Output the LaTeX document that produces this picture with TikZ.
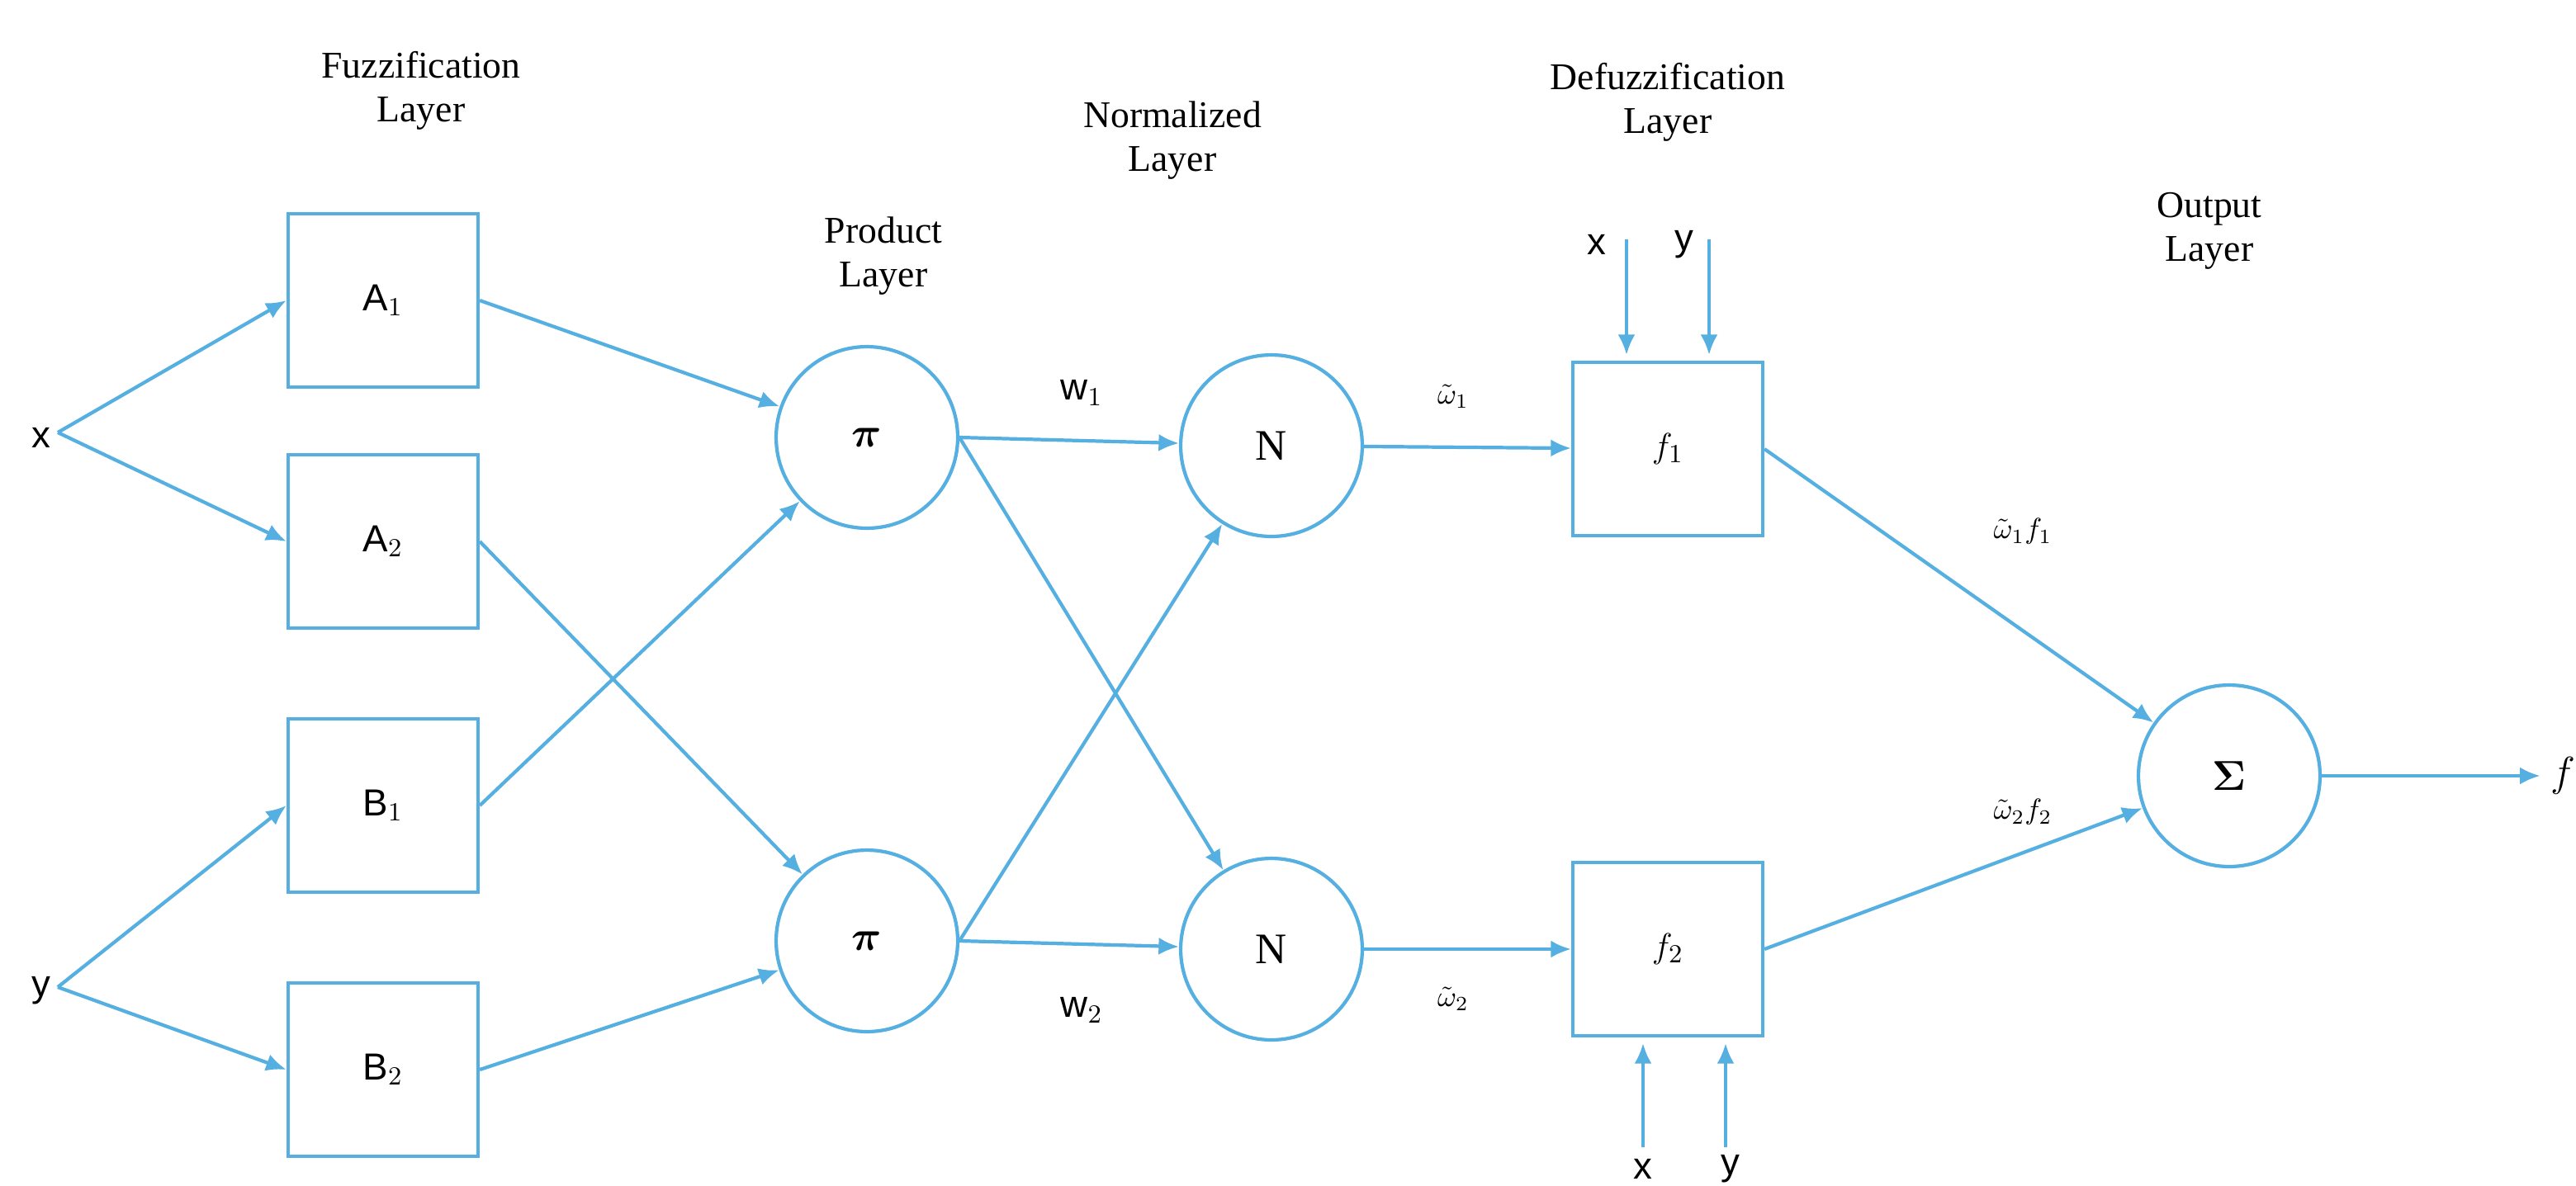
\documentclass[tikz,border=0pt]{standalone}
\usepackage{amsmath}
\usepackage{fontspec}
\setmainfont{Liberation Serif}
\newfontfamily\mysans{Liberation Sans}
\usetikzlibrary{arrows.meta}
\definecolor{lb}{RGB}{85,175,225}
\begin{document}
\begin{tikzpicture}[x=0.02cm,y=-0.02cm,
 box/.style={draw=lb,line width=1.2pt,minimum width=2.3cm,minimum height=2.1cm,font=\mysans\fontsize{13}{15}\selectfont},
 circ/.style={draw=lb,line width=1.2pt,circle,minimum size=2.2cm,font=\fontsize{15}{17}\selectfont},
 ar/.style={draw=lb,line width=1.2pt,-{Latex[length=7pt,width=6pt]}},
 ttl/.style={align=center,font=\fontsize{13}{15}\selectfont},
 lbl/.style={font=\mysans\fontsize{13}{15}\selectfont}]
\useasboundingbox (0,0) rectangle (1560,718);
\node[ttl] at (255,55) {Fuzzification\\Layer};
\node[ttl] at (535,155) {Product\\Layer};
\node[ttl] at (710,85) {Normalized\\Layer};
\node[ttl] at (1010,62) {Defuzzification\\Layer};
\node[ttl] at (1338,140) {Output\\Layer};
\node[lbl] (x) at (25,265) {x};
\node[lbl] (y) at (25,600) {y};
\coordinate (xp) at (35,262);
\coordinate (yp) at (35,598);
\node[box] (A1) at (232,182) {A$_1$};
\node[box] (A2) at (232,328) {A$_2$};
\node[box] (B1) at (232,488) {B$_1$};
\node[box] (B2) at (232,648) {B$_2$};
\node[circ] (P1) at (525,265) {$\boldsymbol{\pi}$};
\node[circ] (P2) at (525,570) {$\boldsymbol{\pi}$};
\node[circ] (N1) at (770,270) {N};
\node[circ] (N2) at (770,575) {N};
\node[box] (F1) at (1010,272) {$f_1$};
\node[box] (F2) at (1010,575) {$f_2$};
\node[circ] (S) at (1350,470) {$\boldsymbol{\Sigma}$};
\node[font=\fontsize{15}{17}\selectfont] (f) at (1552,470) {$f$};
\draw[ar] (xp) -- (A1.west);
\draw[ar] (xp) -- (A2.west);
\draw[ar] (yp) -- (B1.west);
\draw[ar] (yp) -- (B2.west);
\draw[ar] (A1.east) -- (P1);
\draw[ar] (B1.east) -- (P1);
\draw[ar] (A2.east) -- (P2);
\draw[ar] (B2.east) -- (P2);
\draw[ar] (P1.east) -- (N1);
\draw[ar] (P1.east) -- (N2);
\draw[ar] (P2.east) -- (N1);
\draw[ar] (P2.east) -- (N2);
\draw[ar] (N1) -- (F1);
\draw[ar] (N2) -- (F2);
\draw[ar] (F1.east) -- (S);
\draw[ar] (F2.east) -- (S);
\draw[ar] (S) -- (f);
\node[lbl] at (655,238) {w$_1$};
\node[lbl] at (655,612) {w$_2$};
\node at (880,240) {$\tilde{\omega}_1$};
\node at (880,605) {$\tilde{\omega}_2$};
\node at (1225,322) {$\tilde{\omega}_1 f_1$};
\node at (1225,492) {$\tilde{\omega}_2 f_2$};
\node[lbl] (x1) at (967,148) {x};
\node[lbl] (y1) at (1020,148) {y};
\coordinate (x1s) at (985,145); \coordinate (x1e) at (985,215);
\coordinate (y1s) at (1035,145); \coordinate (y1e) at (1035,215);
\draw[ar] (x1s) -- (x1e);
\draw[ar] (y1s) -- (y1e);
\node[lbl] (x2) at (995,708) {x};
\node[lbl] (y2) at (1048,708) {y};
\coordinate (x2s) at (995,695); \coordinate (x2e) at (995,632);
\coordinate (y2s) at (1045,695); \coordinate (y2e) at (1045,632);
\draw[ar] (x2s) -- (x2e);
\draw[ar] (y2s) -- (y2e);
\end{tikzpicture}
\end{document}
